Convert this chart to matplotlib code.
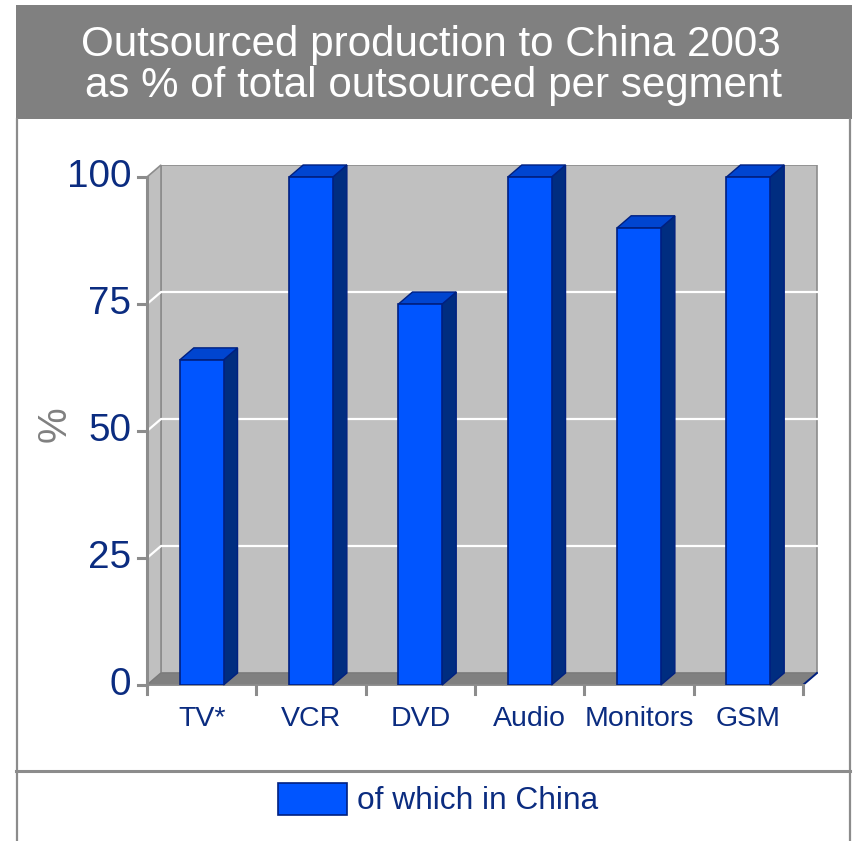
import matplotlib
matplotlib.use("Agg")
import matplotlib.pyplot as plt
from matplotlib.patches import Polygon, Rectangle
from matplotlib.lines import Line2D

plt.rcParams['font.family'] = ['Liberation Sans', 'DejaVu Sans']

# Data
categories = ["TV*", "VCR", "DVD", "Audio", "Monitors", "GSM"]
share_china = [64, 100, 75, 100, 90, 100]
y_ticks = [0, 25, 50, 75, 100]
title_lines = ["Outsourced production to China 2003",
               "as % of total outsourced per segment"]
legend_label = "of which in China"

# Style
W, H = 855, 841
NAVY_TEXT = "#0B2C80"
FRONT = "#0055FF"
SIDE = "#002D80"
TOP = "#0045D0"
EDGE = "#002080"
WALL = "#C0C0C0"
FLOOR = "#808080"
FRAME = "#8C8C8C"

fig = plt.figure(figsize=(W / 100, H / 100), dpi=100)

# Background layer in pixel coordinates: title band, frame, legend divider
bg = fig.add_axes([0, 0, 1, 1], zorder=0)
bg.set_xlim(0, W)
bg.set_ylim(H, 0)
bg.axis("off")
bg.add_patch(Rectangle((16, 5), 836, 114, facecolor="#808080", edgecolor="none"))
bg.add_line(Line2D([17, 17], [119, H], color=FRAME, lw=1.6))
bg.add_line(Line2D([850, 850], [119, H], color=FRAME, lw=1.6))
bg.add_line(Line2D([16, 850], [770.5, 770.5], color=FRAME, lw=2.2))
bg.text(431, 45, title_lines[0], color="white", fontsize=30.3,
        ha="center", va="center")
bg.text(433, 86, title_lines[1], color="white", fontsize=30.3,
        ha="center", va="center")

# Legend
bg.add_patch(Rectangle((278, 783), 69, 32, facecolor=FRONT, edgecolor=EDGE, lw=1.2))
bg.text(357, 801, legend_label, color=NAVY_TEXT, fontsize=22.8, ha="left", va="center")

# Axis title
bg.text(55, 424, "%", color="#808080", fontsize=29, rotation=90,
        ha="center", va="center")

# Chart axes: front plane of the 3-D box
left_px, right_px, bottom_px, top_px = 147, 818, 685, 165
ax = fig.add_axes([left_px / W, 1 - bottom_px / H,
                   (right_px - left_px) / W, (bottom_px - top_px) / H], zorder=1)
cat_px = (803 - 147) / len(categories)
val_px = (685 - 177) / 100
xmin = -0.5
xmax = xmin + (right_px - left_px) / cat_px
ymax = (bottom_px - top_px) / val_px
ax.set_xlim(xmin, xmax)
ax.set_ylim(0, ymax)
ax.axis("off")

dx = 14 / cat_px
dy = 12 / val_px
x_end = xmin + len(categories)

# Back wall
ax.add_patch(Polygon([(xmin + dx, dy), (x_end + dx, dy), (x_end + dx, 100 + dy),
                      (xmin + dx, 100 + dy)], closed=True, facecolor=WALL,
                     edgecolor="#8C8C8C", lw=1.2, zorder=1))
# Left wall
ax.add_patch(Polygon([(xmin, 0), (xmin + dx, dy), (xmin + dx, 100 + dy), (xmin, 100)],
                     closed=True, facecolor=WALL, edgecolor="#8C8C8C", lw=1.2,
                     zorder=1, clip_on=False))
# Floor
ax.add_patch(Polygon([(xmin, 0), (x_end, 0), (x_end + dx, dy), (xmin + dx, dy)],
                     closed=True, facecolor=FLOOR, edgecolor="#7A7A7A", lw=0.8,
                     zorder=1, clip_on=False))
ax.add_line(Line2D([x_end, x_end + dx], [0, dy], color=EDGE, lw=1.4, zorder=2))

# Gridlines on walls
for v in y_ticks[1:-1]:
    ax.add_line(Line2D([xmin, xmin + dx, x_end + dx], [v, v + dy, v + dy],
                       color="white", lw=1.6, zorder=2, clip_on=False))

# Value axis line and ticks
ax.add_line(Line2D([xmin, xmin], [0, 100], color="#8C8C8C", lw=2.2, zorder=3,
                   clip_on=False))
tick_len = 9 / cat_px
for v in y_ticks:
    ax.add_line(Line2D([xmin - tick_len, xmin], [v, v], color="#8C8C8C", lw=2.2,
                       zorder=3, clip_on=False))
    ax.text(xmin - 16 / cat_px, v, str(v), color=NAVY_TEXT, fontsize=27.8,
            ha="right", va="center", clip_on=False)

# Category axis ticks and labels
tick_down = 9 / val_px
for k in range(len(categories) + 1):
    xb = xmin + k
    ax.add_line(Line2D([xb, xb], [0, -tick_down], color="#8C8C8C", lw=2.2,
                       zorder=3, clip_on=False))
ax.add_line(Line2D([xmin, x_end], [0, 0], color="#8C8C8C", lw=1.2, zorder=3,
                   clip_on=False))
for i, name in enumerate(categories):
    ax.text(i, -34 / val_px, name, color=NAVY_TEXT, fontsize=20.5,
            ha="center", va="center", clip_on=False)

# 3-D columns
bw = 0.40
xs = list(range(len(categories)))
ax.bar(xs, share_china, width=bw, color=FRONT, edgecolor=EDGE, lw=1.2, zorder=5)
for x, v in zip(xs, share_china):
    r = x + bw / 2
    l = x - bw / 2
    ax.add_patch(Polygon([(r, 0), (r + dx, dy), (r + dx, v + dy), (r, v)], closed=True,
                         facecolor=SIDE, edgecolor=EDGE, lw=1.0, zorder=4,
                         clip_on=False))
    ax.add_patch(Polygon([(l, v), (r, v), (r + dx, v + dy), (l + dx, v + dy)],
                         closed=True, facecolor=TOP, edgecolor=EDGE, lw=1.0,
                         zorder=4, clip_on=False))

fig.savefig("out.png", dpi=100)
